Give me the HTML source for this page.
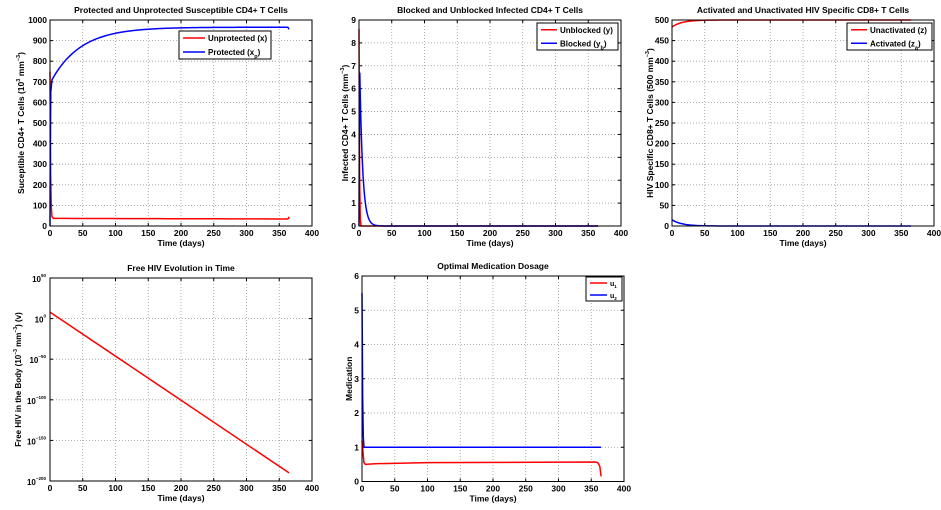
<!DOCTYPE html>
<html><head><meta charset="utf-8"><style>
body{margin:0;background:#fff;}
svg{display:block;font-family:"Liberation Sans",Arial,sans-serif;font-weight:bold;}
</style></head><body>
<svg id="s" width="941" height="510" viewBox="0 0 941 510" xmlns="http://www.w3.org/2000/svg"></svg>
<script>
const S=document.getElementById('s');let H='';
function plot(o){
  const {L,R,T,B,x0,x1,y0,y1}=o;
  const X=v=>L+(v-x0)/(x1-x0)*(R-L), Y=v=>B-(v-y0)/(y1-y0)*(B-T);
  H+=`<rect x="${L}" y="${T}" width="${R-L}" height="${B-T}" fill="#fff"/>`;
  o.xt.forEach(v=>{const x=X(v);
    if(v!==x0&&v!==x1)H+=`<line x1="${x}" y1="${T}" x2="${x}" y2="${B}" stroke="#999" stroke-width="0.8" stroke-dasharray="1,2"/>`;
    H+=`<line x1="${x}" y1="${B}" x2="${x}" y2="${B-3}" stroke="#000"/><line x1="${x}" y1="${T}" x2="${x}" y2="${T+3}" stroke="#000"/>`;
    H+=`<text x="${x}" y="${B+10}" font-size="8.5" text-anchor="middle">${v}</text>`;});
  o.yt.forEach((v,i)=>{const y=Y(v);
    if(v!==y0&&v!==y1)H+=`<line x1="${L}" y1="${y}" x2="${R}" y2="${y}" stroke="#999" stroke-width="0.8" stroke-dasharray="1,2"/>`;
    H+=`<line x1="${L}" y1="${y}" x2="${L+3}" y2="${y}" stroke="#000"/><line x1="${R}" y1="${y}" x2="${R-3}" y2="${y}" stroke="#000"/>`;
    if(o.ylab) H+=`<text x="${L-4}" y="${y+4}" font-size="8" text-anchor="end">10<tspan font-size="4.5" dy="-5">${o.ylab[i]}</tspan></text>`;
    else H+=`<text x="${L-3}" y="${y+3}" font-size="8.5" text-anchor="end">${v}</text>`;});
  o.series.forEach(s=>{let d='';s.f.forEach((p,i)=>{d+=(i?'L':'M')+X(p[0]).toFixed(2)+','+Y(p[1]).toFixed(2);});
    H+=`<path d="${d}" fill="none" stroke="${s.c}" stroke-width="1.5"/>`;});
  H+=`<rect x="${L}" y="${T}" width="${R-L}" height="${B-T}" fill="none" stroke="#000" stroke-width="1"/>`;
  H+=`<text x="${(L+R)/2}" y="${T-7}" font-size="8.5" text-anchor="middle">${o.title}</text>`;
  H+=`<text x="${(L+R)/2}" y="${B+20}" font-size="8.5" text-anchor="middle">Time (days)</text>`;
  H+=`<text transform="translate(${o.yx},${(T+B)/2}) rotate(-90)" font-size="${o.yfs||8.5}" text-anchor="middle">${o.yl}</text>`;
  if(o.leg){const g=o.leg;H+=`<rect x="${g.x}" y="${g.y}" width="${g.w}" height="${g.h}" fill="#fff" stroke="#000"/>`;
    g.items.forEach((it,i)=>{const yy=g.y+g.h*(i*2+1)/4;
      H+=`<line x1="${g.x+4}" y1="${yy}" x2="${g.x+g.lw}" y2="${yy}" stroke="${it.c}" stroke-width="1.5"/>`;
      H+=`<text x="${g.x+g.lw+3}" y="${yy+3}" font-size="${g.fs}">${it.t}</text>`;});}
}
function gen(a,b,n,f){const r=[];for(let i=0;i<=n;i++){const t=a+(b-a)*i/n;r.push([t,f(t)]);}return r;}
const xt=[0,50,100,150,200,250,300,350,400];
// P1
plot({L:50,R:312,T:20,B:226,x0:0,x1:400,y0:0,y1:1000,xt,yt:[0,100,200,300,400,500,600,700,800,900,1000],
 title:"Protected and Unprotected Susceptible CD4+ T Cells",yx:24,
 yl:'Suceptible CD4+ T Cells (10<tspan font-size="5.5" dy="-4">3</tspan><tspan dy="4"> mm</tspan><tspan font-size="5.5" dy="-4">−3</tspan><tspan dy="4">)</tspan>',
 series:[
  {c:"#f00",f:[[0,750],[0.5,500],[1,250],[2,90],[3,45],[5,38]].concat(gen(5,362,20,t=>37-3*t/365)).concat([[364,36],[365,45]])},
  {c:"#00f",f:[[0,0],[0.5,400],[1.2,650],[3,710]].concat(gen(3,363,120,t=>710+255*(1-Math.exp(-(t-3)/45)))).concat([[365,955]])}],
 leg:{x:179,y:31,w:92,h:28,lw:26,fs:8,items:[{c:"#f00",t:"Unprotected (x)"},{c:"#00f",t:'Protected (x<tspan font-size="5.5" dy="3">p</tspan><tspan dy="-3">)</tspan>'}]}});
// P2
plot({L:359,R:621,T:20,B:226,x0:0,x1:400,y0:0,y1:9,xt,yt:[0,1,2,3,4,5,6,7,8,9],
 title:"Blocked and Unblocked Infected CD4+ T Cells",yx:348,
 yl:'Infected CD4+ T Cells (mm<tspan font-size="5.5" dy="-4">−3</tspan><tspan dy="4">)</tspan>',
 series:[{c:"#f00",f:[[0,8.6],[0.5,5],[1,2],[2,0.3],[3,0],[365,0]]},
  {c:"#00f",f:[[0,0],[0.5,4],[1.2,6.7]].concat(gen(1.2,40,80,t=>6.7*Math.exp(-(t-1.2)/4.5))).concat([[365,0]])}],
 leg:{x:537,y:23,w:81,h:27,lw:20,fs:8,items:[{c:"#f00",t:"Unblocked (y)"},{c:"#00f",t:'Blocked (y<tspan font-size="5.5" dy="3">b</tspan><tspan dy="-3">)</tspan>'}]}});
// P3
plot({L:672,R:934,T:20,B:226,x0:0,x1:400,y0:0,y1:500,xt,yt:[0,50,100,150,200,250,300,350,400,450,500],
 title:"Activated and Unactivated HIV Specific CD8+ T Cells",yx:653,
 yl:'HIV Specific CD8+ T Cells (500 mm<tspan font-size="5.5" dy="-4">−3</tspan><tspan dy="4">)</tspan>',
 series:[{c:"#f00",f:gen(0,365,100,t=>500-17*Math.exp(-t/15))},{c:"#00f",f:gen(0,365,100,t=>15*Math.exp(-t/15))}],
 leg:{x:847,y:23,w:85,h:27,lw:20,fs:8,items:[{c:"#f00",t:"Unactivated (z)"},{c:"#00f",t:'Activated (z<tspan font-size="5.5" dy="3">a</tspan><tspan dy="-3">)</tspan>'}]}});
// P4
plot({L:50,R:312,T:278,B:481,x0:0,x1:400,y0:-200,y1:50,xt,yt:[-200,-150,-100,-50,0,50],ylab:["−200","−150","−100","−50","0","50"],
 title:"Free HIV Evolution in Time",yx:21,yfs:8,
 yl:'Free HIV in the Body (10<tspan font-size="5" dy="-4">−3</tspan><tspan dy="4"> mm</tspan><tspan font-size="5" dy="-4">−3</tspan><tspan dy="4">) (v)</tspan>',
 series:[{c:"#f00",f:[[0,8],[365,-190]]}]});
// P5
plot({L:362,R:624,T:276,B:481.5,x0:0,x1:400,y0:0,y1:6,xt,yt:[0,1,2,3,4,5,6],
 title:"Optimal Medication Dosage",yx:352,yl:"Medication",
 series:[{c:"#f00",f:[[0,1.2],[1,1],[2,0.75],[3,0.55],[5,0.5],[20,0.52],[100,0.55],[355,0.57],[360,0.55],[363,0.45],[365,0.15]]},
  {c:"#00f",f:[[0,5.5],[0.5,4],[1,2.5],[2,1.3],[3,1],[365,1]]}],
 leg:{x:586,y:277,w:36,h:24,lw:21,fs:7,items:[{c:"#f00",t:'u<tspan font-size="4.5" dy="2">1</tspan>'},{c:"#00f",t:'u<tspan font-size="4.5" dy="2">2</tspan>'}]}});
S.innerHTML=H;
</script>
</body></html>
